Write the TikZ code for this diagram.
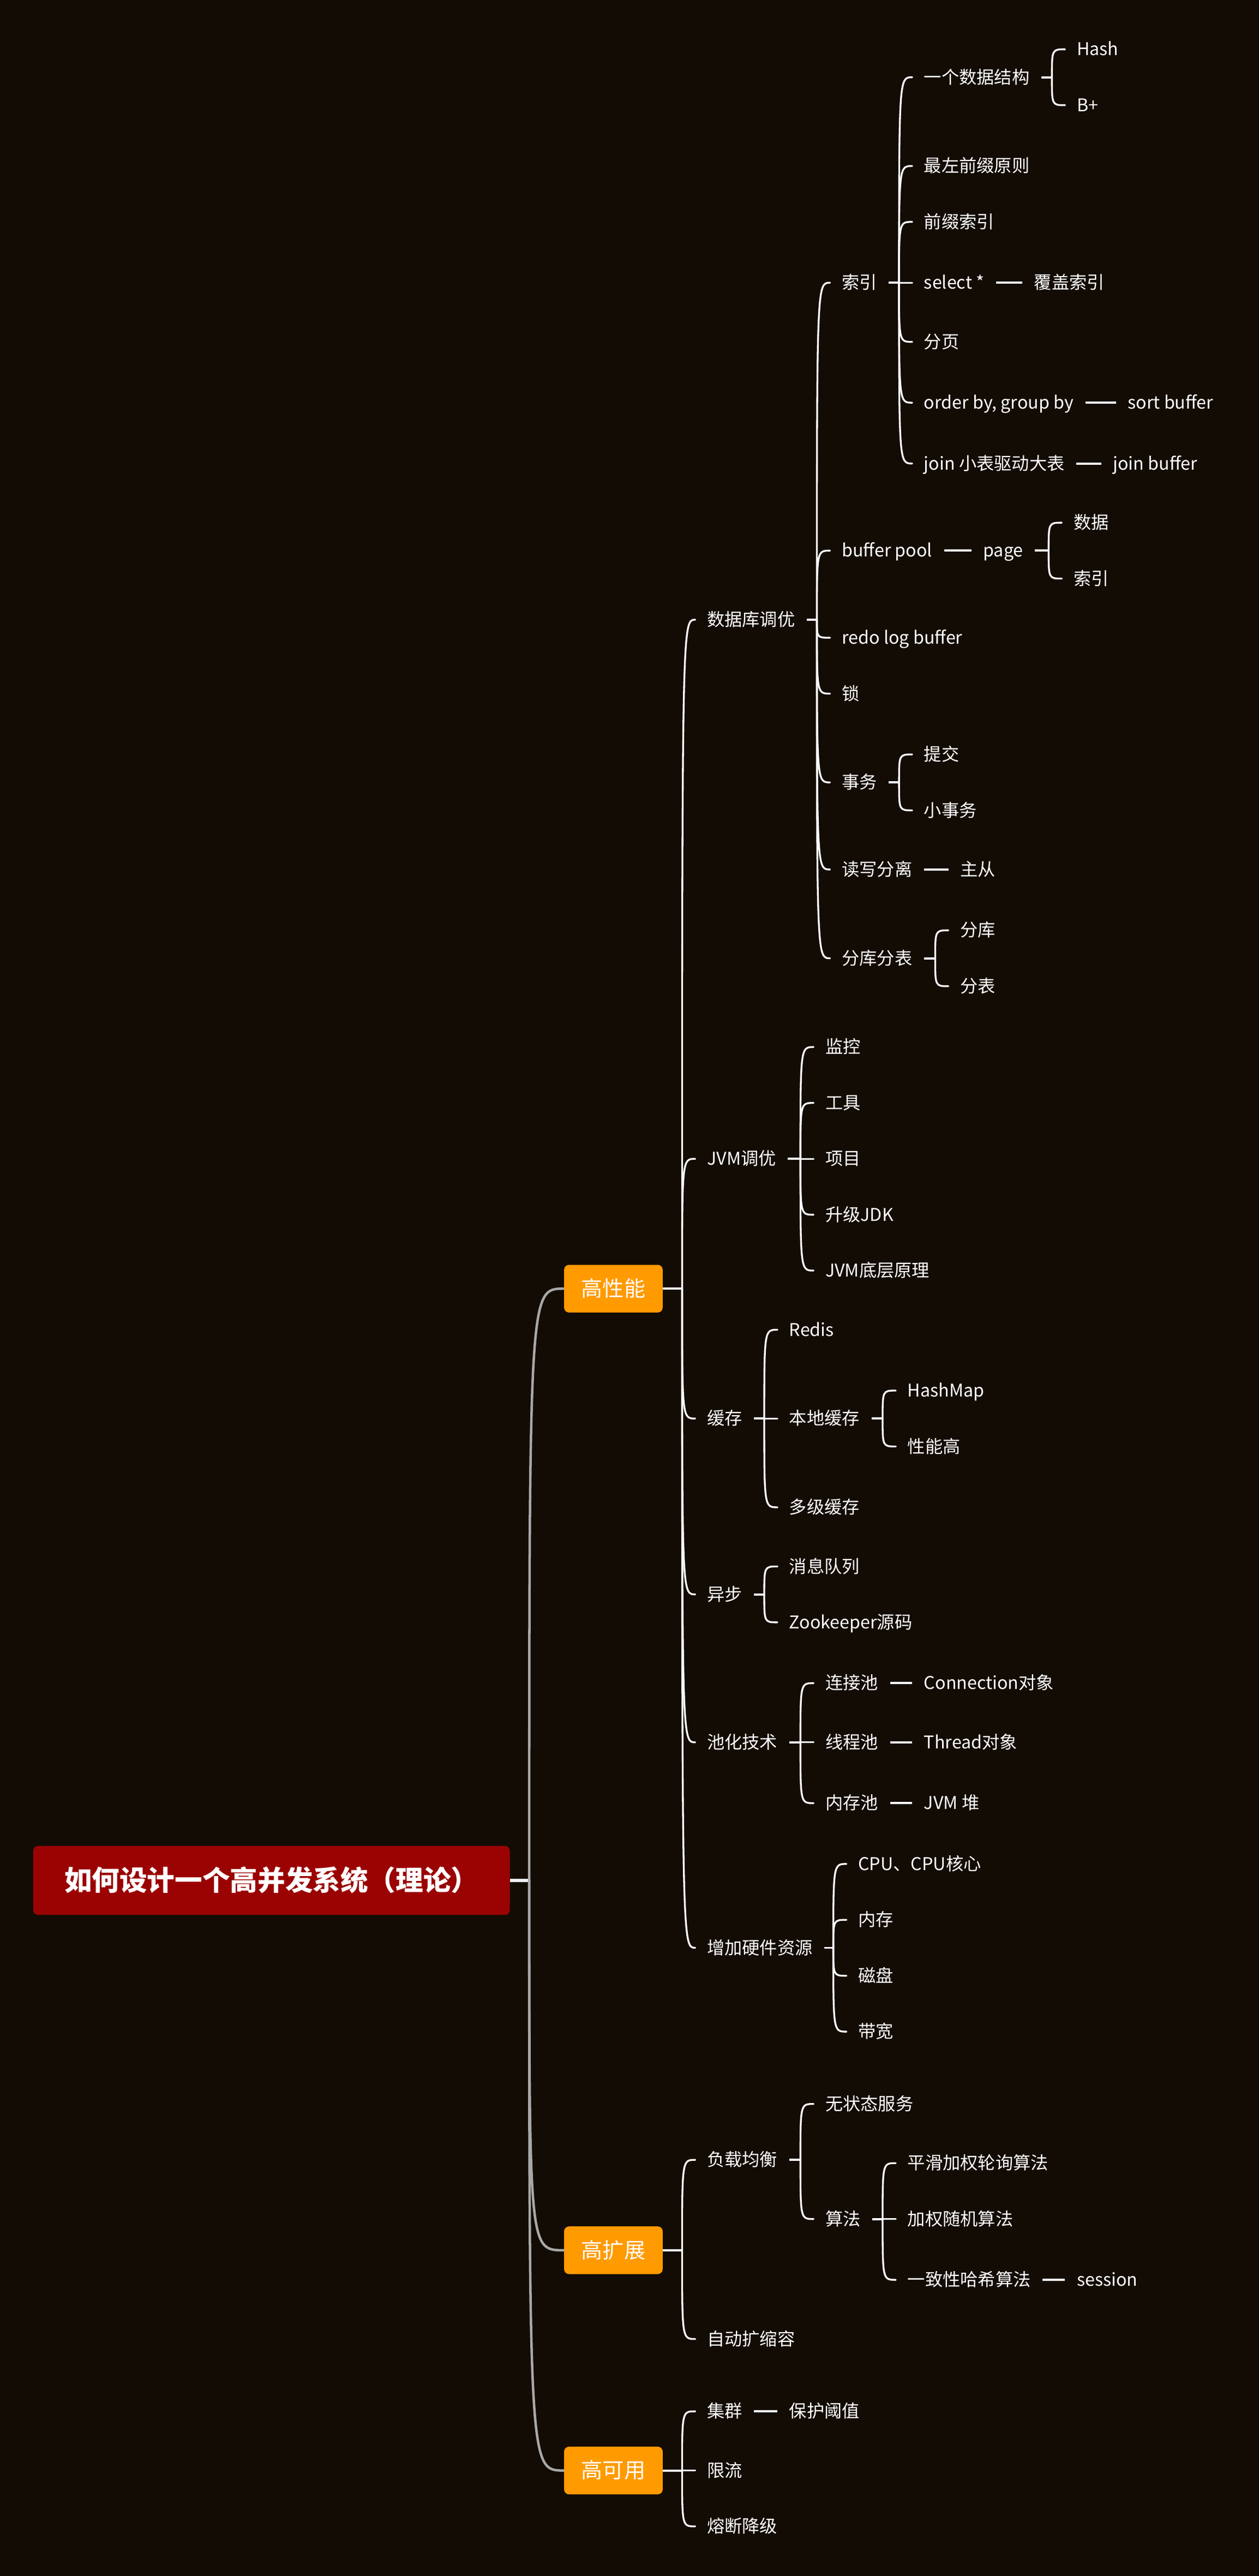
\documentclass[tikz,border=0pt]{standalone}
\usepackage{fontspec}
\setmainfont{Noto Sans CJK SC}
\definecolor{bg}{HTML}{130C04}
\definecolor{org}{HTML}{FF9A00}
\definecolor{rootred}{HTML}{9B0303}
\definecolor{trunk}{HTML}{A8A8A8}
\tikzset{
  t/.style={text=white, font=\fontsize{10.7}{12}\selectfont, inner xsep=7pt, inner ysep=0pt,
            anchor=west, text height=9.2pt, text depth=1.5pt},
  l1/.style={fill=org, text=white, font=\fontsize{13}{15}\selectfont, rounded corners=3pt,
            inner xsep=0pt, inner ysep=0pt, minimum width=60pt, minimum height=29pt, anchor=west,
            text height=11.2pt, text depth=1.8pt},
  rootbox/.style={fill=rootred, text=white, font=\fontsize{16.8}{19}\selectfont\bfseries, rounded corners=3pt,
            inner sep=0pt, minimum width=290pt, minimum height=42pt, anchor=west,
            text height=14.5pt, text depth=2.3pt},
  ln/.style={draw=white, line width=1.1pt, line cap=round},
  stub/.style={draw=white, line width=1.3pt},
  tr/.style={draw=trunk, line width=1.5pt, line cap=round},
}
\newcommand\kids[3]{%
  \coordinate (#1-s) at ([xshift=-8pt]#2.west |- #1.east);
  \draw[stub] (#1.east) -- (#1-s);
  \foreach \c in {#3}{\draw[ln] (#1-s) .. controls (#1-s |- \c.west) .. (\c.west);}
}
\newcommand\pair[2]{\draw[stub] (#1.east) -- (#2.west);}
\begin{document}
\begin{tikzpicture}[x=1pt,y=-1pt]
\fill[bg] (0,0) rectangle (766,1567.2);
\useasboundingbox (0,0) rectangle (766,1567.2);

% root and level 1
\node[rootbox] (root) at (20,1144) {如何设计一个高并发系统（理论）};
\node[l1] (hp) at (343,784) {高性能};
\node[l1] (he) at (343,1369) {高扩展};
\node[l1] (ha) at (343,1503) {高可用};

\coordinate (root-s) at (322,1144);
\draw[draw=white!90!gray, line width=2pt] (root.east) -- (root-s);
\foreach \c in {hp,he,ha}{\draw[tr] (root-s) .. controls (root-s |- \c.west) .. (\c.west);}

% level 2
\node[t] (db) at (423,377) {数据库调优};
\node[t] (jvm) at (423,705) {JVM调优};
\node[t] (cache) at (423,863) {缓存};
\node[t] (async) at (423,970) {异步};
\node[t] (pool) at (423,1060) {池化技术};
\node[t] (hw) at (423,1185) {增加硬件资源};
\node[t] (lb) at (423,1314) {负载均衡};
\node[t] (auto) at (423,1423) {自动扩缩容};
\node[t] (cl) at (423,1467) {集群};
\node[t] (rl) at (423,1503) {限流};
\node[t] (fb) at (423,1537) {熔断降级};

\kids{hp}{db}{db,jvm,cache,async,pool,hw}
\kids{he}{lb}{lb,auto}
\kids{ha}{cl}{cl,rl,fb}

% database tuning
\node[t] (idx) at (505,172) {索引};
\node[t] (bp) at (505,335) {buffer pool};
\node[t] (redo) at (505,388) {redo log buffer};
\node[t] (lock) at (505,422) {锁};
\node[t] (tx) at (505,476) {事务};
\node[t] (rw) at (505,529) {读写分离};
\node[t] (shard) at (505,583) {分库分表};
\kids{db}{idx}{idx,bp,redo,lock,tx,rw,shard}

\node[t] (ds) at (555,47) {一个数据结构};
\node[t] (lp) at (555,101) {最左前缀原则};
\node[t] (pi) at (555,135) {前缀索引};
\node[t] (sel) at (555,172) {select *};
\node[t] (pgn) at (555,208) {分页};
\node[t] (ob) at (555,245) {order by, group by\hspace{3pt}};
\node[t] (jn) at (555,282) {join 小表驱动大表};
\kids{idx}{ds}{ds,lp,pi,sel,pgn,ob,jn}

\node[t] (hash) at (648,30) {Hash};
\node[t] (bplus) at (648,64) {B+};
\kids{ds}{hash}{hash,bplus}

\node[t] (cov) at (622,172) {覆盖索引};
\pair{sel}{cov}
\node[t] (sb) at (679,245) {sort buffer};
\pair{ob}{sb}
\node[t] (jb) at (670,282) {join buffer};
\pair{jn}{jb}

\node[t] (page) at (591,335) {page};
\pair{bp}{page}
\node[t] (pd) at (646,318) {数据};
\node[t] (pidx) at (646,352) {索引};
\kids{page}{pd}{pd,pidx}

\node[t] (commit) at (555,459) {提交};
\node[t] (stx) at (555,493) {小事务};
\kids{tx}{commit}{commit,stx}

\node[t] (ms) at (577,529) {主从};
\pair{rw}{ms}

\node[t] (sdb) at (577,566) {分库};
\node[t] (stb) at (577,600) {分表};
\kids{shard}{sdb}{sdb,stb}

% JVM
\node[t] (mon) at (495,637) {监控};
\node[t] (tool) at (495,671) {工具};
\node[t] (proj) at (495,705) {项目};
\node[t] (jdk) at (495,739) {升级JDK};
\node[t] (jvmp) at (495,773) {JVM底层原理};
\kids{jvm}{mon}{mon,tool,proj,jdk,jvmp}

% cache
\node[t] (redis) at (473,809) {Redis};
\node[t] (local) at (473,863) {本地缓存};
\node[t] (multi) at (473,917) {多级缓存};
\kids{cache}{redis}{redis,local,multi}
\node[t] (hm) at (545,846) {HashMap};
\node[t] (perf) at (545,880) {性能高};
\kids{local}{hm}{hm,perf}

% async
\node[t] (mq) at (473,953) {消息队列};
\node[t] (zk) at (473,987) {Zookeeper源码};
\kids{async}{mq}{mq,zk}

% pooling
\node[t] (cp) at (495,1024) {连接池};
\node[t] (tp) at (495,1060) {线程池};
\node[t] (mp) at (495,1097) {内存池};
\kids{pool}{cp}{cp,tp,mp}
\node[t] (co) at (555,1024) {Connection对象};
\pair{cp}{co}
\node[t] (to) at (555,1060) {Thread对象};
\pair{tp}{to}
\node[t] (heap) at (555,1097) {JVM 堆};
\pair{mp}{heap}

% hardware
\node[t] (cpu) at (515,1134) {CPU、CPU核心};
\node[t] (mem) at (515,1168) {内存};
\node[t] (disk) at (515,1202) {磁盘};
\node[t] (bw) at (515,1236) {带宽};
\kids{hw}{cpu}{cpu,mem,disk,bw}

% load balancing
\node[t] (stateless) at (495,1280) {无状态服务};
\node[t] (algo) at (495,1350) {算法};
\kids{lb}{stateless}{stateless,algo}
\node[t] (swrr) at (545,1316) {平滑加权轮询算法};
\node[t] (wr) at (545,1350) {加权随机算法};
\node[t] (ch) at (545,1387) {一致性哈希算法};
\kids{algo}{swrr}{swrr,wr,ch}
\node[t] (sess) at (648,1387) {session};
\pair{ch}{sess}

% cluster
\node[t] (guard) at (473,1467) {保护阈值};
\pair{cl}{guard}
\end{tikzpicture}
\end{document}
